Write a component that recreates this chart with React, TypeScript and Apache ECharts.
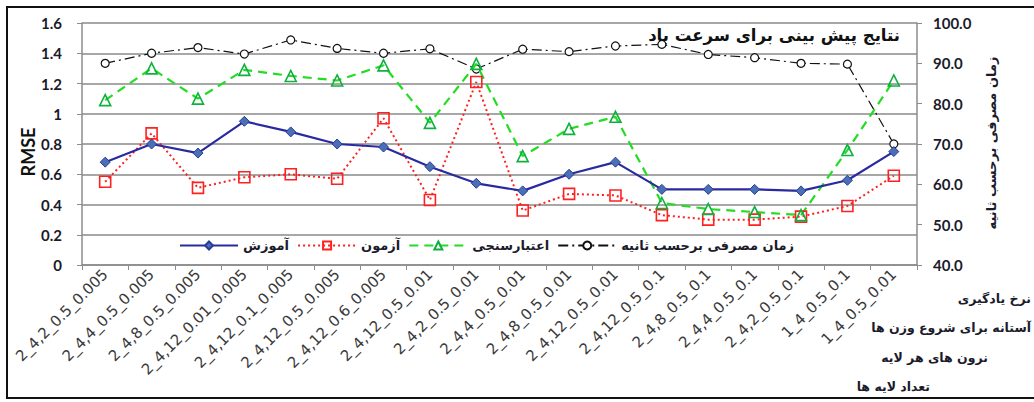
import React, { useEffect, useRef } from "react";
import * as echarts from "echarts";

const categories = [
  "2_4,2_0.5_0.005",
  "2_4,4_0.5_0.005",
  "2_4,8_0.5_0.005",
  "2_4,12_0.01_0.005",
  "2_4,12_0.1_0.005",
  "2_4,12_0.5_0.005",
  "2_4,12_0.6_0.005",
  "2_4,12_0.5_0.01",
  "2_4,2_0.5_0.01",
  "2_4,4_0.5_0.01",
  "2_4,8_0.5_0.01",
  "2_4,12_0.5_0.01",
  "2_4,12_0.5_0.1",
  "2_4,8_0.5_0.1",
  "2_4,4_0.5_0.1",
  "2_4,2_0.5_0.1",
  "1_4_0.5_0.1",
  "1_4_0.5_0.01",
];

const trainRmse = [0.68, 0.8, 0.74, 0.95, 0.88, 0.8, 0.78, 0.65, 0.54, 0.49, 0.6, 0.68, 0.5, 0.5, 0.5, 0.49, 0.56, 0.75];
const testRmse = [0.55, 0.87, 0.51, 0.58, 0.6, 0.57, 0.97, 0.43, 1.21, 0.36, 0.47, 0.46, 0.33, 0.3, 0.3, 0.32, 0.39, 0.59];
const validRmse = [1.09, 1.3, 1.1, 1.29, 1.25, 1.22, 1.32, 0.94, 1.33, 0.72, 0.9, 0.98, 0.41, 0.37, 0.35, 0.33, 0.76, 1.22];
const timeSec = [90.0, 92.5, 93.9, 92.3, 95.8, 93.7, 92.5, 93.6, 88.6, 93.5, 92.9, 94.3, 94.7, 92.2, 91.4, 90.0, 89.8, 70.0];

const seriesNames = ["آموزش", "آزمون", "اعتبارسنجی", "زمان مصرفی برحسب ثانیه"];
const title = "نتایج پیش بینی برای سرعت باد";
const leftAxisName = "RMSE";
const rightAxisName = "زمان مصرفی برحسب ثانیه";
const keyLines = ["نرخ یادگیری", "آستانه برای شروع وزن ها", "نرون های هر لایه", "تعداد لایه ها"];

const LATIN = "Lato, 'Open Sans', sans-serif";
const FA = "'DejaVu Sans', sans-serif";
const TXT = "#1b1b2b";

export default function App() {
  const ref = useRef<HTMLDivElement>(null);
  useEffect(() => {
    if (!ref.current) return;
    const chart = echarts.init(ref.current, null, { renderer: "svg" });
    const option: any = {
      animation: false,
      backgroundColor: "#fff",
      grid: { left: 82, right: 117, top: 23, bottom: 137, containLabel: false },
      legend: {
        left: 174,
        top: 234,
        itemWidth: 58,
        itemHeight: 10,
        itemGap: 8,
        data: seriesNames,
        textStyle: { fontFamily: FA, fontSize: 13, fontWeight: "bold", color: TXT, padding: [0, 0, 0, 0] },
      },
      xAxis: {
        type: "category",
        data: categories,
        boundaryGap: true,
        axisLine: { lineStyle: { color: "#8c8c8c", width: 1.5 } },
        axisTick: { show: true, length: 5, lineStyle: { color: "#8c8c8c" } },
        axisLabel: { rotate: 45, interval: 0, margin: 7, fontFamily: "'DejaVu Sans', sans-serif", fontSize: 15, color: "#3a3a3a" },
      },
      yAxis: [
        {
          type: "value",
          min: 0,
          max: 1.6,
          interval: 0.2,
          axisLine: { show: true, lineStyle: { color: "#8c8c8c", width: 1.5 } },
          axisTick: { show: true, length: 5, lineStyle: { color: "#8c8c8c" } },
          splitLine: { show: true, lineStyle: { color: "#8a8a8a", width: 1.5 } },
          axisLabel: {
            margin: 20,
            fontFamily: LATIN,
            fontSize: 15,
            fontWeight: "bold",
            color: TXT,
            formatter: (v: number) => String(Math.round(v * 10) / 10),
          },
        },
        {
          type: "value",
          position: "right",
          min: 40,
          max: 100,
          interval: 10,
          axisLine: { show: true, lineStyle: { color: "#8c8c8c", width: 1.5 } },
          axisTick: { show: true, length: 5, lineStyle: { color: "#8c8c8c" } },
          splitLine: { show: false },
          axisLabel: {
            margin: 16,
            fontFamily: LATIN,
            fontSize: 15,
            fontWeight: "bold",
            color: TXT,
            formatter: (v: number) => v.toFixed(1),
          },
        },
      ],
      series: [
        {
          name: seriesNames[0],
          type: "line",
          data: trainRmse,
          yAxisIndex: 0,
          symbol: "diamond",
          symbolSize: 10,
          lineStyle: { color: "#2a2aa0", width: 2.2, type: "solid" },
          itemStyle: { color: "#4a6fb5", borderColor: "#2a3b9a", borderWidth: 1 },
          z: 4,
        },
        {
          name: seriesNames[1],
          type: "line",
          data: testRmse,
          yAxisIndex: 0,
          symbol: "rect",
          symbolSize: 11,
          lineStyle: { color: "#ff2020", width: 2, type: [2, 3] },
          itemStyle: { color: "rgba(255,255,255,0)", borderColor: "#ff2020", borderWidth: 1.6 },
          z: 3,
        },
        {
          name: seriesNames[2],
          type: "line",
          data: validRmse,
          yAxisIndex: 0,
          symbol: "triangle",
          symbolSize: 11,
          lineStyle: { color: "#22dd22", width: 2.2, type: [9, 6] },
          itemStyle: { color: "rgba(255,255,255,0)", borderColor: "#10b040", borderWidth: 1.6 },
          z: 3,
        },
        {
          name: seriesNames[3],
          type: "line",
          data: timeSec,
          yAxisIndex: 1,
          symbol: "circle",
          symbolSize: 8,
          lineStyle: { color: "#111", width: 1.2, type: [10, 4, 2, 4] },
          itemStyle: { color: "#fff", borderColor: "#111", borderWidth: 1.2 },
          z: 2,
        },
      ],
      graphic: [
        {
          type: "rect",
          silent: true,
          shape: { x: 7, y: 7, width: 1040, height: 391 },
          style: { fill: "none", stroke: "#111", lineWidth: 2 },
          z: 100,
        },
        {
          type: "text",
          x: 900,
          y: 35,
          style: { text: title, fontFamily: FA, fontSize: 16.5, fontWeight: "bold", fill: "#111", textAlign: "right", textVerticalAlign: "middle" },
          z: 50,
        },
        {
          type: "text",
          x: 28,
          y: 152,
          rotation: Math.PI / 2,
          style: { text: leftAxisName, fontFamily: LATIN, fontSize: 18, fontWeight: "bold", fill: "#111", textAlign: "center", textVerticalAlign: "middle" },
        },
        {
          type: "text",
          x: 991,
          y: 143,
          rotation: Math.PI / 2,
          style: { text: rightAxisName, fontFamily: FA, fontSize: 13, fontWeight: "bold", fill: TXT, textAlign: "center", textVerticalAlign: "middle" },
        },
        {
          type: "text",
          x: 1031,
          y: 298,
          style: { text: keyLines[0], fontFamily: FA, fontSize: 12.5, fontWeight: "bold", fill: TXT, textAlign: "right", textVerticalAlign: "middle" },
        },
        {
          type: "text",
          x: 1031,
          y: 327,
          style: { text: keyLines[1], fontFamily: FA, fontSize: 12.5, fontWeight: "bold", fill: TXT, textAlign: "right", textVerticalAlign: "middle" },
        },
        {
          type: "text",
          x: 988,
          y: 357,
          style: { text: keyLines[2], fontFamily: FA, fontSize: 12.5, fontWeight: "bold", fill: TXT, textAlign: "right", textVerticalAlign: "middle" },
        },
        {
          type: "text",
          x: 930,
          y: 386,
          style: { text: keyLines[3], fontFamily: FA, fontSize: 12.5, fontWeight: "bold", fill: TXT, textAlign: "right", textVerticalAlign: "middle" },
        },
      ],
    };
    chart.setOption(option);
    return () => chart.dispose();
  }, []);
  return (
    <div
      ref={ref}
      style={{ position: "fixed", left: 0, top: 0, width: 1034, height: 402, background: "#fff" }}
    />
  );
}
